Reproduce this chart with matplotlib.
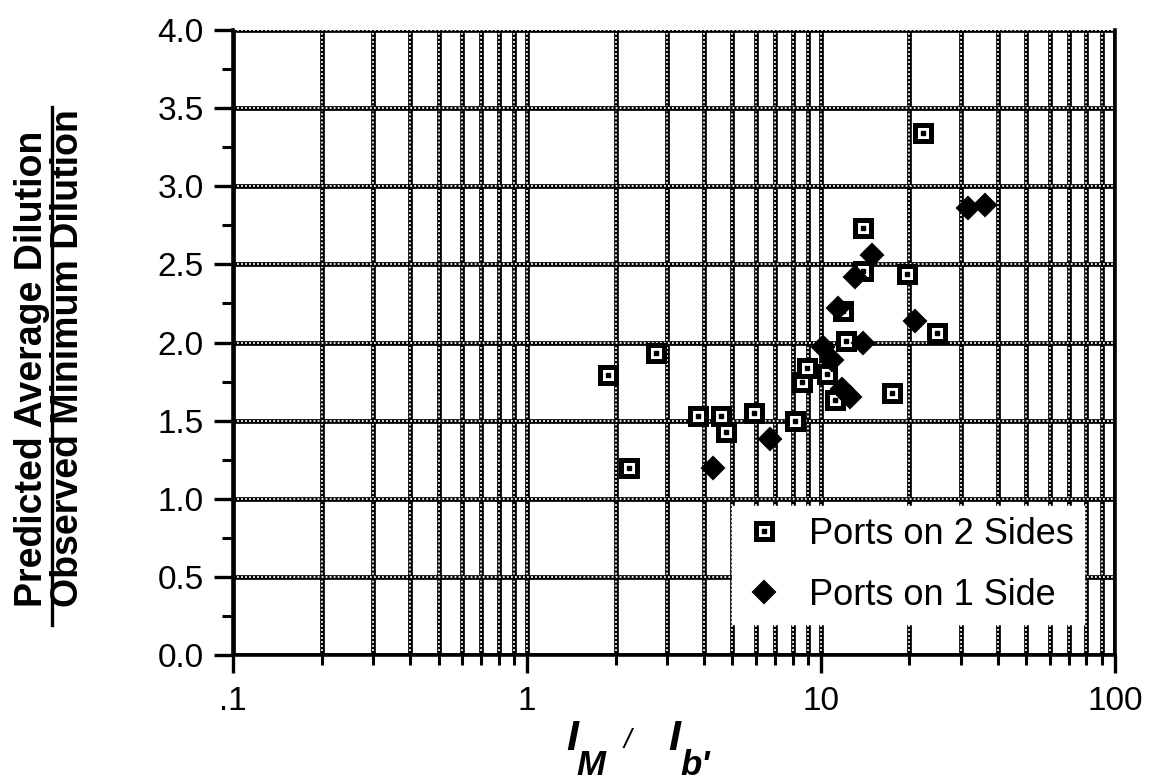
import matplotlib
matplotlib.use("Agg")
import matplotlib.pyplot as plt
import matplotlib.patheffects as pe
from matplotlib.ticker import LogLocator, NullFormatter, MultipleLocator
import numpy as np

plt.rcParams['font.family'] = ['Liberation Sans', 'DejaVu Sans']

# ports on two sides of the diffuser
two_x = [1.89, 2.22, 2.75, 3.82, 4.57, 4.75, 5.92, 8.16, 8.6, 8.96,
         10.5, 11.16, 12.2, 11.9, 13.9, 13.9, 17.4, 19.6, 22.2, 24.8]
two_y = [1.79, 1.20, 1.93, 1.53, 1.53, 1.43, 1.55, 1.50, 1.75, 1.84,
         1.80, 1.63, 2.01, 2.20, 2.46, 2.73, 1.68, 2.44, 3.34, 2.06]

# ports on one side
one_x = [4.29, 6.71, 10.16, 10.9, 11.8, 12.55, 13.9, 20.9, 31.6, 36.1,
         14.9, 13.05, 11.4]
one_y = [1.20, 1.38, 1.97, 1.89, 1.70, 1.65, 2.00, 2.14, 2.86, 2.88,
         2.56, 2.42, 2.22]

xtick_vals = [0.1, 1, 10, 100]
xtick_text = ['.1', '1', '10', '100']


class WhiteBeads(pe.AbstractPathEffect):
    """Punch a row of small white holes into a solid line."""

    def draw_path(self, renderer, gc, tpath, affine, rgbFace=None):
        gc0 = renderer.new_gc()
        gc0.copy_properties(gc)
        gc0.set_foreground('white')
        gc0.set_linewidth(1.3)
        gc0.set_dashes(0, [1.3, 1.6])
        gc0.set_capstyle('butt')
        renderer.draw_path(gc0, tpath, affine, rgbFace)
        gc0.restore()


fig = plt.figure(figsize=(11.56, 7.81), dpi=100)
ax = fig.add_axes([0.2016, 0.1613, 0.7629, 0.8003])

ax.set_xscale('log')
ax.set_xlim(0.1, 100)
ax.set_ylim(0, 4.0)
ax.set_xticks(xtick_vals)
ax.set_xticklabels(xtick_text)
ax.xaxis.set_minor_locator(LogLocator(base=10, subs=np.arange(2, 10)))
ax.xaxis.set_minor_formatter(NullFormatter())
ax.yaxis.set_major_locator(MultipleLocator(0.5))
ax.yaxis.set_minor_locator(MultipleLocator(0.25))
ax.yaxis.set_major_formatter(plt.FormatStrFormatter('%.1f'))

ax.tick_params(which='major', direction='out', length=14, width=2.4,
               labelsize=24, pad=7)
ax.tick_params(which='minor', direction='out', length=8, width=2.2)
ax.tick_params(axis='x', which='major', length=13, pad=9)
ax.tick_params(axis='x', which='minor', length=7)

for s in ['left', 'bottom', 'right']:
    ax.spines[s].set_linewidth(2.6)
ax.spines['top'].set_visible(False)

# beaded grid: solid black line with white holes along it
ax.set_axisbelow(True)
ax.grid(True, axis='x', which='both', color='black', lw=3.4)
ax.grid(True, axis='y', which='major', color='black', lw=3.4)
beads = [pe.Normal(), WhiteBeads()]
for gl in ax.get_xgridlines() + ax.get_ygridlines():
    gl.set_path_effects(beads)
for t in ax.xaxis.get_minor_ticks():
    t.gridline.set_path_effects(beads)

sq = ax.plot(two_x, two_y, linestyle='none', marker='s', ms=11.5,
             mfc='white', mec='black', mew=3.6, zorder=3)[0]
dot = ax.plot(two_x, two_y, linestyle='none', marker='s', ms=2.6,
              mfc='black', mec='black', zorder=3)[0]
dia = ax.plot(one_x, one_y, linestyle='none', marker='D', ms=11.5,
              mfc='black', mec='black', mew=1.5, zorder=4)[0]

leg = ax.legend([(sq, dot), dia], ['Ports on 2 Sides', 'Ports on 1 Side'],
                loc='lower right', bbox_to_anchor=(0.965, 0.05),
                fontsize=26, frameon=True, fancybox=False, framealpha=1,
                edgecolor='white', facecolor='white', handletextpad=0.62,
                labelspacing=0.72, borderpad=0.3, borderaxespad=0,
                handlelength=1.2)
leg.set_zorder(5)

# axis title along x: I_M / I_b'
xl = dict(style='italic', fontweight='bold', ha='left', va='baseline')
fig.text(566 / 1156, 1 - 750 / 781, 'I', fontsize=31, **xl)
fig.text(576 / 1156, 1 - 775 / 781, 'M', fontsize=25, **xl)
fig.text(624 / 1156, 1 - 748 / 781, '/', fontsize=20, style='italic',
         ha='left', va='baseline')
fig.text(668 / 1156, 1 - 750 / 781, 'I', fontsize=31, **xl)
fig.text(680 / 1156, 1 - 775 / 781, "b'", fontsize=25, **xl)

# stacked ratio label on the left
lbl_kw = dict(rotation=90, rotation_mode='anchor', ha='left', va='center',
              fontsize=27, fontweight='bold',
              family=['Liberation Sans Narrow', 'Liberation Sans'])
fig.text(32 / 1156, 1 - 607 / 781, 'Predicted Average Dilution', **lbl_kw)
fig.text(68 / 1156, 1 - 607 / 781, 'Observed Minimum Dilution', **lbl_kw)
fig.add_artist(plt.Line2D([52 / 1156, 52 / 1156], [1 - 625 / 781, 1 - 107 / 781],
                          color='black', lw=2.4, transform=fig.transFigure))

fig.savefig('out.png', dpi=100)
